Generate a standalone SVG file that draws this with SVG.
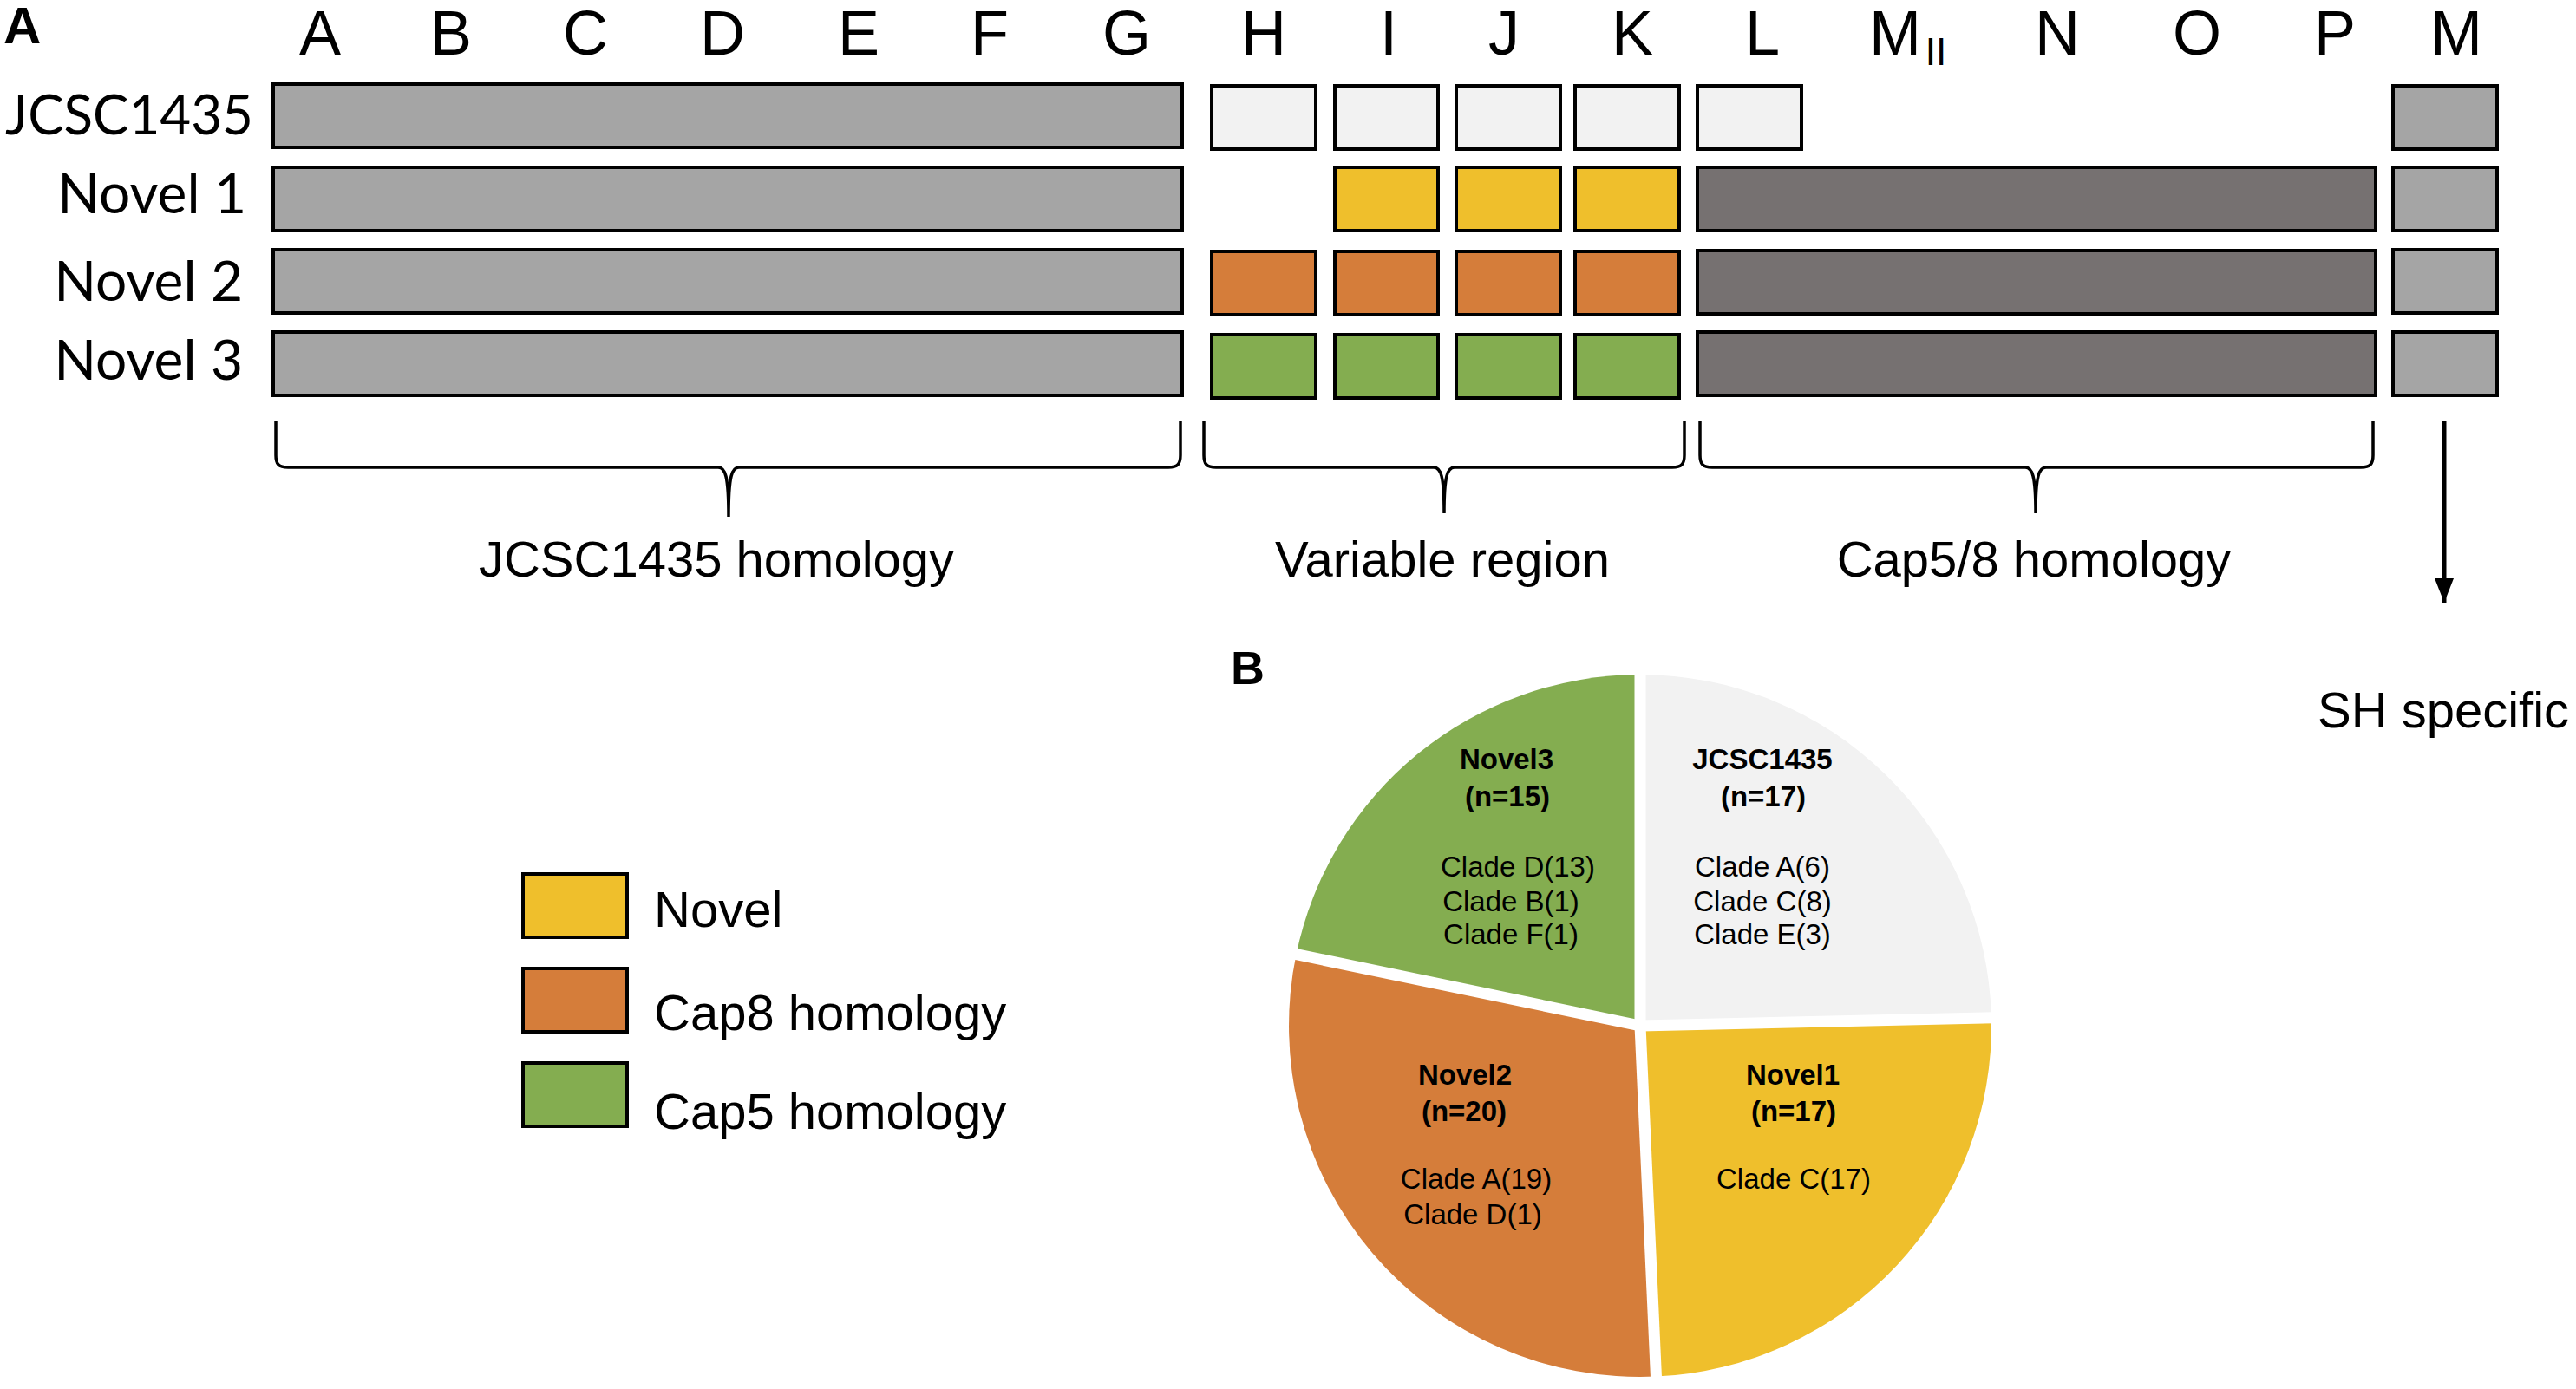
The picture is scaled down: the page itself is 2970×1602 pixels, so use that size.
<svg xmlns="http://www.w3.org/2000/svg" width="2970" height="1602" viewBox="0 0 2970 1602">
<style>
.bx{stroke:#000;stroke-width:4}
.g{fill:#a5a5a5}.lt{fill:#f2f2f2}.dk{fill:#767171}.y{fill:#efbf2c}.o{fill:#d57d3a}.gr{fill:#84ad50}
.top{font-family:"Liberation Sans",Arial,sans-serif;font-size:72px;text-anchor:middle;fill:#000}
.sub{font-family:"Liberation Sans",Arial,sans-serif;font-size:44px;text-anchor:middle;fill:#000}
.row{font-family:Lato,"Liberation Sans",sans-serif;font-size:64px;text-anchor:end;fill:#000}
.lab{font-family:"Liberation Sans",Arial,sans-serif;font-size:58px;fill:#000}
.br{fill:none;stroke:#000;stroke-width:3.5}
.pt{font-family:"Liberation Sans",Arial,sans-serif;font-size:33px;text-anchor:middle;fill:#000}
.pb{font-weight:bold}
.pl{font-family:"Liberation Sans",Arial,sans-serif;font-weight:bold;fill:#000}
</style>
<defs>
<marker id="ah" markerWidth="28" markerHeight="22" refX="28" refY="11" orient="auto" markerUnits="userSpaceOnUse" viewBox="0 0 28 22">
<path d="M0,0 L28,11 L0,22 Z" fill="#000"/>
</marker>
</defs>
<rect width="2970" height="1602" fill="#fff"/>
<text class="pl" x="4" y="50" font-size="60">A</text>
<text class="pl" x="1419" y="789" font-size="54">B</text>
<g id="column-letters">
<text class="top" x="369" y="63">A</text>
<text class="top" x="520" y="63">B</text>
<text class="top" x="675" y="63">C</text>
<text class="top" x="833" y="63">D</text>
<text class="top" x="990" y="63">E</text>
<text class="top" x="1141" y="63">F</text>
<text class="top" x="1299" y="63">G</text>
<text class="top" x="1457" y="63">H</text>
<text class="top" x="1601" y="63">I</text>
<text class="top" x="1734" y="63">J</text>
<text class="top" x="1882" y="63">K</text>
<text class="top" x="2032" y="63">L</text>
<text class="top" x="2185" y="63">M</text>
<text class="sub" x="2232" y="75">II</text>
<text class="top" x="2372" y="63">N</text>
<text class="top" x="2533" y="63">O</text>
<text class="top" x="2692" y="63">P</text>
<text class="top" x="2832" y="63">M</text>
</g>
<g id="row-labels">
<text class="row" x="292" y="155" textLength="286" lengthAdjust="spacingAndGlyphs">JCSC1435</text>
<text class="row" x="284" y="246">Novel 1</text>
<text class="row" x="280" y="347">Novel 2</text>
<text class="row" x="280" y="438">Novel 3</text>
</g>
<g id="row-jcsc1435">
<rect class="bx g" x="315" y="97" width="1048" height="73"/>
<rect class="bx lt" x="1397" y="99" width="120" height="73"/>
<rect class="bx lt" x="1539" y="99" width="119" height="73"/>
<rect class="bx lt" x="1679" y="99" width="120" height="73"/>
<rect class="bx lt" x="1816" y="99" width="120" height="73"/>
<rect class="bx lt" x="1957" y="99" width="120" height="73"/>
<rect class="bx g" x="2759" y="99" width="120" height="73"/>
</g>
<g id="row-novel1">
<rect class="bx g" x="315" y="193" width="1048" height="73"/>
<rect class="bx y" x="1539" y="193" width="119" height="73"/>
<rect class="bx y" x="1679" y="193" width="120" height="73"/>
<rect class="bx y" x="1816" y="193" width="120" height="73"/>
<rect class="bx dk" x="1957" y="193" width="782" height="73"/>
<rect class="bx g" x="2759" y="193" width="120" height="73"/>
</g>
<g id="row-novel2">
<rect class="bx g" x="315" y="288" width="1048" height="73"/>
<rect class="bx o" x="1397" y="290" width="120" height="73"/>
<rect class="bx o" x="1539" y="290" width="119" height="73"/>
<rect class="bx o" x="1679" y="290" width="120" height="73"/>
<rect class="bx o" x="1816" y="290" width="120" height="73"/>
<rect class="bx dk" x="1957" y="289" width="782" height="73"/>
<rect class="bx g" x="2759" y="288" width="120" height="73"/>
</g>
<g id="row-novel3">
<rect class="bx g" x="315" y="383" width="1048" height="73"/>
<rect class="bx gr" x="1397" y="386" width="120" height="73"/>
<rect class="bx gr" x="1539" y="386" width="119" height="73"/>
<rect class="bx gr" x="1679" y="386" width="120" height="73"/>
<rect class="bx gr" x="1816" y="386" width="120" height="73"/>
<rect class="bx dk" x="1957" y="383" width="782" height="73"/>
<rect class="bx g" x="2759" y="383" width="120" height="73"/>
</g>
<g id="braces">
<path class="br" d="M318,486 L318,525 C318,535 321,539 332,539 L828,539 C836,539 840,548 840,596 M840,596 C840,548 844,539 852,539 L1347,539 C1358,539 1361,535 1361,525 L1361,486"/>
<path class="br" d="M1388,486 L1388,525 C1388,535 1391,539 1402,539 L1653,539 C1661,539 1665,548 1665,592 M1665,592 C1665,548 1669,539 1677,539 L1928,539 C1939,539 1942,535 1942,525 L1942,486"/>
<path class="br" d="M1960,486 L1960,525 C1960,535 1963,539 1974,539 L2335,539 C2343,539 2347,548 2347,592 M2347,592 C2347,548 2351,539 2359,539 L2722,539 C2733,539 2736,535 2736,525 L2736,486"/>
<text class="lab" x="826" y="665" text-anchor="middle">JCSC1435 homology</text>
<text class="lab" x="1663" y="665" text-anchor="middle">Variable region</text>
<text class="lab" x="2345" y="665" text-anchor="middle">Cap5/8 homology</text>
</g>
<g id="connectors">
<line x1="2818" y1="486" x2="2818" y2="695" stroke="#000" stroke-width="5" marker-end="url(#ah)"/>
</g>
<g id="sh-specific">
<text class="lab" x="2672" y="839">SH specific</text>
</g>
<g id="legend">
<rect class="bx y" x="603" y="1008" width="120" height="73"/>
<rect class="bx o" x="603" y="1117" width="120" height="73"/>
<rect class="bx gr" x="603" y="1226" width="120" height="73"/>
<text class="lab" x="754" y="1069">Novel</text>
<text class="lab" x="754" y="1188">Cap8 homology</text>
<text class="lab" x="754" y="1302">Cap5 homology</text>
</g>
<g id="pie">
<path id="slice-jcsc1435" fill="#f2f2f2" d="M1891,1183 L1891,778 A405,405 0 0 1 2295.9,1173.8 Z"/>
<path id="slice-novel1" fill="#efbf2c" d="M1891,1183 L2295.9,1173.8 A405,405 0 0 1 1909.4,1587.6 Z"/>
<path id="slice-novel2" fill="#d57d3a" d="M1891,1183 L1909.4,1587.6 A405,405 0 0 1 1494.5,1100.6 Z"/>
<path id="slice-novel3" fill="#84ad50" d="M1891,1183 L1494.5,1100.6 A405,405 0 0 1 1891,778 Z"/>
<g stroke="#fff" stroke-width="13" stroke-linecap="butt">
<line x1="1891" y1="1183" x2="1891" y2="760"/>
<line x1="1891" y1="1183" x2="2312" y2="1173.4"/>
<line x1="1891" y1="1183" x2="1910.1" y2="1602"/>
<line x1="1891" y1="1183" x2="1479" y2="1097.4"/>
</g>
<g id="label-novel3">
<text class="pt pb" x="1737" y="887">Novel3</text>
<text class="pt pb" x="1738" y="930">(n=15)</text>
<text class="pt" x="1750" y="1011">Clade D(13)</text>
<text class="pt" x="1742" y="1051">Clade B(1)</text>
<text class="pt" x="1742" y="1089">Clade F(1)</text>
</g>
<g id="label-jcsc1435">
<text class="pt pb" x="2032" y="887">JCSC1435</text>
<text class="pt pb" x="2033" y="930">(n=17)</text>
<text class="pt" x="2032" y="1011">Clade A(6)</text>
<text class="pt" x="2032" y="1051">Clade C(8)</text>
<text class="pt" x="2032" y="1089">Clade E(3)</text>
</g>
<g id="label-novel2">
<text class="pt pb" x="1689" y="1251">Novel2</text>
<text class="pt pb" x="1688" y="1293">(n=20)</text>
<text class="pt" x="1702" y="1371">Clade A(19)</text>
<text class="pt" x="1698" y="1412">Clade D(1)</text>
</g>
<g id="label-novel1">
<text class="pt pb" x="2067" y="1251">Novel1</text>
<text class="pt pb" x="2068" y="1293">(n=17)</text>
<text class="pt" x="2068" y="1371">Clade C(17)</text>
</g>
</g>
</svg>
